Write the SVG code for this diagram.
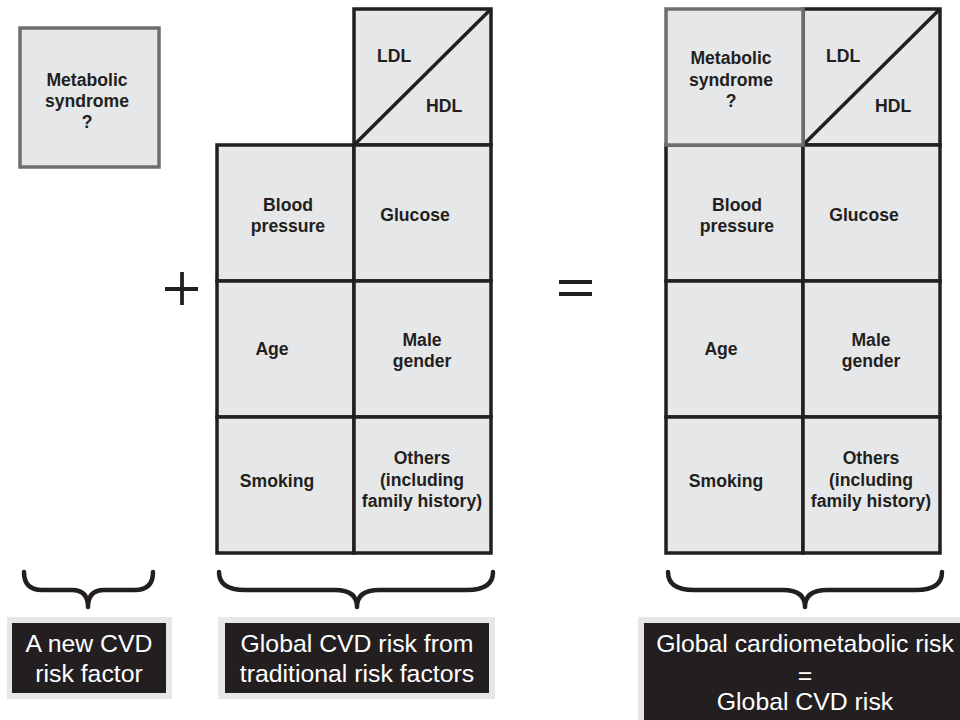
<svg xmlns="http://www.w3.org/2000/svg" width="960" height="720" viewBox="0 0 960 720">
<style>
.cell{fill:#e6e7e8;stroke:#231f20;stroke-width:3.5}
.gcell{fill:#e6e7e8;stroke:#6d6e70;stroke-width:3.5}
.line{stroke:#231f20;stroke-width:3.5;fill:none}
.t{font-family:"Liberation Sans",Arial,sans-serif;font-weight:bold;font-size:17.6px;fill:#231f20;text-anchor:middle}
.ts{font-family:"Liberation Sans",Arial,sans-serif;font-weight:bold;font-size:17.6px;fill:#231f20}
.frame{fill:#e6e7e8}
.blk{fill:#231f20}
.lbl{font-family:"Liberation Sans",Arial,sans-serif;font-size:24.8px;fill:#ffffff;text-anchor:middle}
.brace{stroke:#231f20;stroke-width:4.5;fill:none;stroke-linecap:round;stroke-linejoin:round}
.op{stroke:#231f20;stroke-width:3.8;fill:none}
</style>
<rect width="960" height="720" fill="#ffffff"/>

<g id="metabolic-left">
<rect class="gcell" x="20" y="28" width="139" height="139"/>
<text class="t" x="87" y="86">Metabolic</text>
<text class="t" x="87" y="107">syndrome</text>
<text class="t" x="87" y="128">?</text>
</g>

<g id="plus">
<line class="op" x1="165" y1="289" x2="198" y2="289"/>
<line class="op" x1="182" y1="272" x2="182" y2="305"/>
</g>

<g id="mid-lipids">
<rect class="cell" x="354" y="9" width="137" height="136"/>
<line class="line" x1="354" y1="145" x2="491" y2="9"/>
<text class="ts" x="377" y="62">LDL</text>
<text class="ts" x="426" y="112">HDL</text>
</g>
<g id="mid-bp">
<rect class="cell" x="217" y="145" width="137" height="136"/>
<text class="t" x="288" y="211">Blood</text>
<text class="t" x="288" y="232">pressure</text>
</g>
<g id="mid-glucose">
<rect class="cell" x="354" y="145" width="137" height="136"/>
<text class="t" x="415" y="221">Glucose</text>
</g>
<g id="mid-age">
<rect class="cell" x="217" y="281" width="137" height="136"/>
<text class="t" x="272" y="355">Age</text>
</g>
<g id="mid-male">
<rect class="cell" x="354" y="281" width="137" height="136"/>
<text class="t" x="422" y="346">Male</text>
<text class="t" x="422" y="367">gender</text>
</g>
<g id="mid-smoking">
<rect class="cell" x="217" y="417" width="137" height="136"/>
<text class="t" x="277" y="487">Smoking</text>
</g>
<g id="mid-others">
<rect class="cell" x="354" y="417" width="137" height="136"/>
<text class="t" x="422" y="464">Others</text>
<text class="t" x="422" y="486">(including</text>
<text class="t" x="422" y="507">family history)</text>
</g>

<g id="equals">
<line class="op" x1="559" y1="282" x2="592" y2="282"/>
<line class="op" x1="559" y1="294" x2="592" y2="294"/>
</g>

<g id="right-lipids">
<rect class="cell" x="803" y="9" width="137" height="136"/>
<line class="line" x1="803" y1="145" x2="940" y2="9"/>
<text class="ts" x="826" y="62">LDL</text>
<text class="ts" x="875" y="112">HDL</text>
</g>
<g id="right-bp">
<rect class="cell" x="666" y="145" width="137" height="136"/>
<text class="t" x="737" y="211">Blood</text>
<text class="t" x="737" y="232">pressure</text>
</g>
<g id="right-glucose">
<rect class="cell" x="803" y="145" width="137" height="136"/>
<text class="t" x="864" y="221">Glucose</text>
</g>
<g id="right-age">
<rect class="cell" x="666" y="281" width="137" height="136"/>
<text class="t" x="721" y="355">Age</text>
</g>
<g id="right-male">
<rect class="cell" x="803" y="281" width="137" height="136"/>
<text class="t" x="871" y="346">Male</text>
<text class="t" x="871" y="367">gender</text>
</g>
<g id="right-smoking">
<rect class="cell" x="666" y="417" width="137" height="136"/>
<text class="t" x="726" y="487">Smoking</text>
</g>
<g id="right-others">
<rect class="cell" x="803" y="417" width="137" height="136"/>
<text class="t" x="871" y="464">Others</text>
<text class="t" x="871" y="486">(including</text>
<text class="t" x="871" y="507">family history)</text>
</g>
<g id="metabolic-right">
<rect class="gcell" x="666" y="9" width="137" height="136"/>
<text class="t" x="731" y="64">Metabolic</text>
<text class="t" x="731" y="86">syndrome</text>
<text class="t" x="731" y="107">?</text>
</g>

<g id="connectors">
<path class="brace" d="M24,572 Q24,590 42,590 L72,590 Q88,590 88,607 Q88,590 104,590 L135,590 Q153,590 153,572"/>
<path class="brace" d="M219,572 Q219,590 245,590 L335,590 Q357,590 357,607 Q357,590 379,590 L467,590 Q493,590 493,572"/>
<path class="brace" d="M668,572 Q668,590 694,590 L783,590 Q805,590 805,607 Q805,590 827,590 L916,590 Q942,590 942,572"/>
</g>

<g id="label-new">
<rect class="frame" x="7" y="617" width="165" height="82"/>
<rect class="blk" x="12" y="623" width="154" height="70"/>
<text class="lbl" x="89" y="652">A new CVD</text>
<text class="lbl" x="89" y="682">risk factor</text>
</g>
<g id="label-global">
<rect class="frame" x="218" y="617" width="277" height="82"/>
<rect class="blk" x="225" y="623" width="264" height="70"/>
<text class="lbl" x="357" y="652">Global CVD risk from</text>
<text class="lbl" x="357" y="682">traditional risk factors</text>
</g>
<g id="label-cardio">
<rect class="frame" x="638" y="617" width="330" height="110"/>
<rect class="blk" x="644" y="623" width="320" height="104"/>
<text class="lbl" x="805" y="652">Global cardiometabolic risk</text>
<text class="lbl" x="805" y="684">=</text>
<text class="lbl" x="805" y="710">Global CVD risk</text>
</g>
</svg>
